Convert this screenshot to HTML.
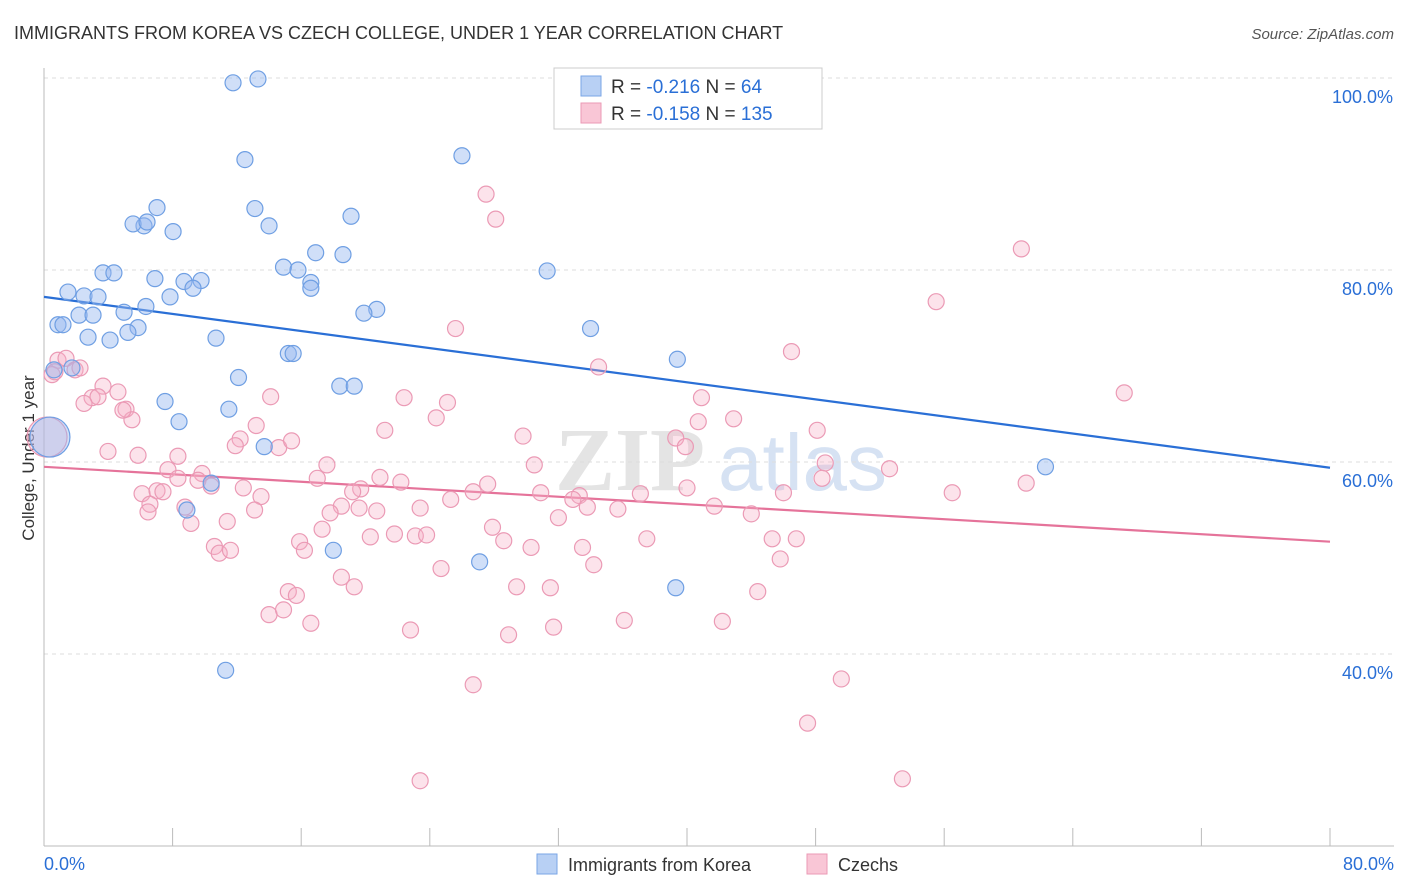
<!DOCTYPE html>
<html><head><meta charset="utf-8"><style>
body{margin:0;background:#fff;font-family:"Liberation Sans",sans-serif}
svg{display:block}
</style></head><body>
<svg id="c" width="1406" height="892" xmlns="http://www.w3.org/2000/svg">
<text x="14" y="39" font-size="18" fill="#333">IMMIGRANTS FROM KOREA VS CZECH COLLEGE, UNDER 1 YEAR CORRELATION CHART</text>
<text x="1394" y="39" font-size="15" fill="#555" font-style="italic" text-anchor="end">Source: ZipAtlas.com</text>
<text transform="translate(34,458) rotate(-90)" font-size="17" fill="#333" text-anchor="middle">College, Under 1 year</text>
<g><text x="555" y="490" font-size="90" fill="#e4e4e4" font-family="Liberation Serif,serif" font-weight="bold">ZIP</text><text x="718" y="490" font-size="80" fill="#d6e2f3">atlas</text></g>
<g id="grid"></g><g id="axes"></g><g id="lines"></g><g id="pts"></g>
<g>
<rect x="554" y="68" width="268" height="61" fill="#fff" stroke="#ccc"/>
<rect x="581" y="76" width="20" height="20" fill="#b8d0f4" stroke="#7aa6e6"/>
<rect x="581" y="103" width="20" height="20" fill="#f9c6d6" stroke="#eb9ab5"/>
<text x="611" y="93" font-size="19" fill="#333">R = <tspan fill="#2a6fd6">-0.216</tspan>   N = <tspan fill="#2a6fd6"> 64</tspan></text>
<text x="611" y="120" font-size="19" fill="#333">R = <tspan fill="#2a6fd6">-0.158</tspan>   N = <tspan fill="#2a6fd6">135</tspan></text>
</g>
<g>
<rect x="537" y="854" width="20" height="20" fill="#b8d0f4" stroke="#7aa6e6"/>
<text x="568" y="871" font-size="18" fill="#333">Immigrants from Korea</text>
<rect x="807" y="854" width="20" height="20" fill="#f9c6d6" stroke="#eb9ab5"/>
<text x="838" y="871" font-size="18" fill="#333">Czechs</text>
</g>
</svg>
<script>
const xTicks=[0,8,16,24,32,40,48,56,64,72,80];
const yTicks=[40,60,80,100];
const yTickLabels=["40.0%","60.0%","80.0%","100.0%"];
const xLabels=["0.0%","80.0%"];
const koreaX=[11.76,13.31,12.5,26.0,13.12,7.03,6.22,5.54,6.41,8.03,14.0,19.1,16.9,18.6,3.67,4.35,6.9,8.71,9.77,9.27,14.9,15.8,16.6,16.6,31.3,1.49,2.49,3.36,7.84,6.34,4.98,2.18,3.05,20.7,19.9,0.87,1.18,5.85,5.22,2.74,4.11,10.7,34.0,15.2,15.5,39.4,0.62,1.74,12.1,18.4,19.3,7.53,11.5,8.4,13.7,62.3,10.4,8.89,18.0,27.1,39.3,11.3,0.37];
const koreaY=[99.5,99.9,91.5,91.9,86.4,86.5,84.6,84.8,85.0,84.0,84.6,85.6,81.8,81.6,79.7,79.7,79.1,78.8,78.9,78.1,80.3,80.0,78.7,78.1,79.9,77.7,77.3,77.2,77.2,76.2,75.6,75.3,75.3,75.9,75.5,74.3,74.3,74.0,73.5,73.0,72.7,72.9,73.9,71.3,71.3,70.7,69.6,69.8,68.8,67.9,67.9,66.3,65.5,64.2,61.6,59.5,57.8,55.0,50.8,49.6,46.9,38.3,62.6];
const czechX=[27.5,28.1,60.8,55.5,25.6,46.5,34.5,67.2,0.87,1.37,0.5,1.93,2.24,3.67,4.6,2.99,3.36,2.49,5.1,5.47,4.91,14.1,22.4,25.1,24.4,40.9,42.9,40.7,48.1,21.2,29.8,39.3,39.9,3.98,5.85,8.33,12.2,13.2,11.9,14.6,15.4,17.6,7.71,8.33,9.83,9.58,10.4,17.0,20.9,19.7,22.2,30.5,48.6,52.6,61.1,56.5,26.7,27.6,30.9,33.3,32.9,33.8,35.7,37.1,40.0,41.7,44.0,46.0,48.4,12.4,13.5,6.1,7.03,7.4,6.59,6.47,8.77,9.14,13.1,11.4,19.2,18.5,17.8,19.6,20.7,23.4,27.9,25.3,32.0,10.6,10.9,11.6,15.9,16.2,17.3,20.3,21.8,23.1,23.8,28.6,30.3,33.5,37.5,45.3,46.8,45.8,34.2,24.7,18.5,19.3,29.4,31.5,44.4,15.2,15.7,14.0,14.9,16.6,22.8,28.9,31.7,36.1,42.2,49.6,47.5,26.7,23.4,53.4,0.19,0.68];
const czechY=[87.9,85.3,82.2,76.7,73.9,71.5,69.9,67.2,70.6,70.8,69.1,69.6,69.8,67.9,67.3,66.7,66.8,66.1,65.5,64.4,65.4,66.8,66.7,66.2,64.6,66.7,64.5,64.2,63.3,63.3,62.7,62.5,61.6,61.1,60.7,60.6,62.4,63.8,61.7,61.5,62.2,59.7,59.2,58.3,58.8,58.1,57.5,58.3,58.4,57.2,57.9,59.7,59.9,59.3,57.8,56.8,56.9,57.7,56.8,56.5,56.1,55.3,55.1,56.7,57.3,55.4,54.6,56.8,58.3,57.3,56.4,56.7,57.0,56.9,55.6,54.8,55.3,53.6,55.0,53.8,56.9,55.4,54.7,55.2,54.9,55.2,53.2,56.1,54.2,51.2,50.5,50.8,51.7,50.8,53.0,52.2,52.5,52.3,52.4,51.8,51.1,51.1,52.0,52.0,52.0,49.9,49.3,48.9,48.0,47.0,47.0,46.9,46.5,46.5,46.1,44.1,44.6,43.2,42.5,42.0,42.8,43.5,43.4,37.4,32.8,36.8,26.8,27.0,62.6,69.4];
const trendKorea=[77.2,59.4];
const trendCzech=[59.5,51.7];
const NS="http://www.w3.org/2000/svg";
const X0=44,X1=1330,Y20=846,Y100=78;
const sx=v=>X0+(v/80)*(X1-X0);
const sy=v=>Y20-(v-20)/80*(Y20-Y100);
function mk(t,a,p){const e=document.createElementNS(NS,t);for(const k in a)e.setAttribute(k,a[k]);p.appendChild(e);return e;}
const grid=document.getElementById('grid'),axes=document.getElementById('axes'),lines=document.getElementById('lines'),pts=document.getElementById('pts');
yTicks.forEach((t,i)=>{
 const l=mk('line',{x1:X0,x2:1394,y1:sy(t),y2:sy(t),stroke:'#ddd','stroke-dasharray':'4,4'},grid);
 
 
 const tx=mk('text',{x:1393,y:sy(t)+25,'font-size':18,fill:'#2a6fd6','text-anchor':'end'},axes);
 tx.textContent=yTickLabels[i];
 
 
});
const ax=mk('line',{x1:X0,x2:X0,y1:68,y2:Y20,stroke:'#bbb'},axes);


const bx=mk('line',{x1:X0,x2:1394,y1:Y20,y2:Y20,stroke:'#bbb'},axes);


xTicks.forEach(t=>{
 const l=mk('line',{x1:sx(t),x2:sx(t),y1:Y20,y2:Y20-18,stroke:'#bbb'},axes);
 
 
});
[[0,'start',X0],[80,'end',1394]].forEach((d,i)=>{
 const tx=mk('text',{x:d[2],y:870,'font-size':18,fill:'#2a6fd6','text-anchor':d[1]},axes);
 tx.textContent=xLabels[i];
 
 
});
function pointsFor(xs,ys,fill,stroke,name){
 xs.forEach((x,i)=>{
  const big=(i===xs.length-1&&name==='korea-point')||(i===xs.length-2&&name==='czech-point');
  const c=mk('circle',{cx:sx(x),cy:sy(ys[i]),r:big?20:8,fill:fill,stroke:stroke,'stroke-width':1.2},pts);
  
  
 });
}
pointsFor(czechX,czechY,'rgba(245,175,198,0.35)','#eb9ab5','czech-point');
pointsFor(koreaX,koreaY,'rgba(150,185,240,0.45)','#6f9fe3','korea-point');
const tl1=mk('line',{x1:sx(0),y1:sy(trendKorea[0]),x2:sx(80),y2:sy(trendKorea[1]),stroke:'#2a6fd6','stroke-width':2.2},lines);


const tl2=mk('line',{x1:sx(0),y1:sy(trendCzech[0]),x2:sx(80),y2:sy(trendCzech[1]),stroke:'#e5739a','stroke-width':2.2},lines);


</script>
</body></html>
